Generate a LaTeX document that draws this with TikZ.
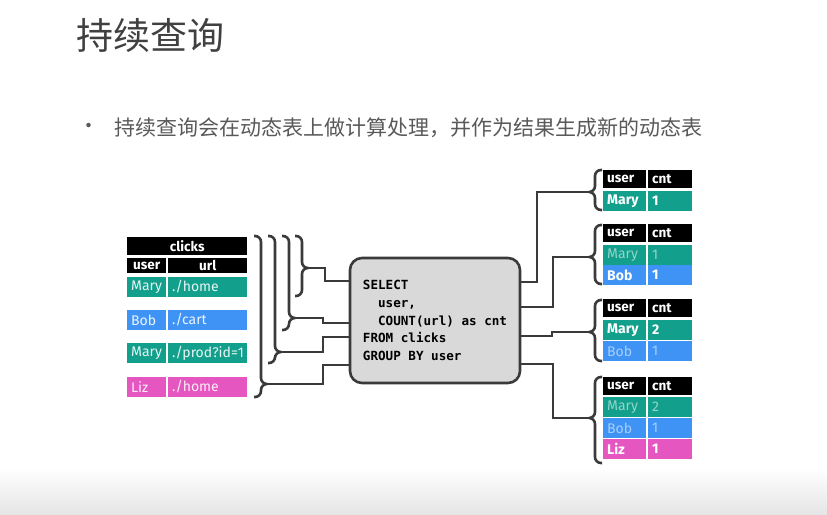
\documentclass[tikz,border=0pt]{standalone}
\usepackage{fontspec}
\setsansfont{Fira Sans}
\setmonofont{DejaVu Sans Mono}
\newfontfamily\cjk{Noto Sans CJK SC}
\definecolor{tealc}{HTML}{12A08C}
\definecolor{bluec}{HTML}{3F93F5}
\definecolor{pinkc}{HTML}{E656C0}
\definecolor{wirec}{HTML}{3A3A3A}
\definecolor{boxc}{HTML}{D9D9D9}
\definecolor{titlec}{HTML}{404040}
\definecolor{textc}{HTML}{595959}
\begin{document}
\begin{tikzpicture}[x=1pt,y=-1pt,
  wire/.style={draw=wirec,line width=2.6pt},
  cell/.style={anchor=north west,inner xsep=4pt,inner ysep=0pt,minimum height=19.5pt,text width=#1,align=left,text=white,font=\sffamily\fontsize{14}{16}\selectfont},
  head/.style={cell=#1,fill=black,font=\sffamily\bfseries\fontsize{13.5}{15}\selectfont},
  new/.style={font=\sffamily\bfseries\fontsize{14}{16}\selectfont},
  old/.style={text opacity=0.55},
  sqlbox/.style={draw=wirec,line width=2.6pt,fill=boxc,rounded corners=12pt,minimum width=170pt,minimum height=125pt,align=left,font=\ttfamily\bfseries\fontsize{12.6}{17.8}\selectfont}]
\useasboundingbox (0,0) rectangle (827,514);
\shade[top color=white,bottom color=black!10] (0,468) rectangle (827,514);

\node[anchor=west,inner sep=0pt,text=titlec,font=\cjk\fontsize{37}{40}\selectfont] (title) at (76,35) {持续查询};
\node[text=textc,font=\cjk\fontsize{21}{24}\selectfont] (dot) at (89,128) {•};
\node[anchor=west,inner sep=0pt,text=textc,font=\cjk\fontsize{21}{24}\selectfont] (point) at (114,128) {持续查询会在动态表上做计算处理，并作为结果生成新的动态表};

\node[sqlbox] (sql) at (435,320.5) {SELECT\\\hphantom{xx}user,\\\hphantom{xx}COUNT(url) as cnt\\FROM clicks\\GROUP BY user};

\node[head=112pt,align=center,minimum height=18pt] (clicks) at (127,237) {clicks};
\node[head=31pt,align=center,minimum height=15pt] (huser) at (127,258) {user};
\node[head=71pt,align=center,minimum height=15pt] (hurl) at (168,258) {url};
\foreach \y/\u/\p/\c [count=\i] in {277/Mary/{./home}/tealc,310/Bob/{./cart}/bluec,343/Mary/{./prod?id=1}/tealc,377/Liz/{./home}/pinkc}{
  \node[cell=31pt,fill=\c,text opacity=0.9] (user\i) at (127,\y) {\u};
  \node[cell=71pt,fill=\c,text opacity=0.9] (url\i) at (168,\y) {\p};
}

\foreach \x/\m/\b/\jx/\y [count=\i] in {302/268/296/325/281,289/318/330/323/323,275/352/363/323/337,261/384/397/323/365}{
  \draw[wire,rounded corners=6pt] (\x-7,236) -- (\x,236) -- (\x,\m) -- (\x+6,\m) (\x+6,\m) -- (\x,\m) -- (\x,\b) -- (\x-7,\b);
  \coordinate (in\i) at (\x+6,\m);
  \draw[wire] (in\i) -| (\jx,\y) -- (sql.west |- 0,\y);
}

\foreach \t/\y in {a/170,b/224,c/299,d/377}{
  \node[head=35pt,minimum height=18pt] (\t-user) at (603,\y) {user};
  \node[head=36pt,minimum height=18pt] (\t-cnt) at (648,\y) {cnt};
}
\foreach \y/\u/\n/\c/\s [count=\i] in {191/Mary/1/tealc/new,245/Mary/1/tealc/old,265/Bob/1/bluec/new,320/Mary/2/tealc/new,341/Bob/1/bluec/old,397/Mary/2/tealc/old,418/Bob/1/bluec/old,439/Liz/1/pinkc/new}{
  \node[cell=35pt,fill=\c,\s] (r\i-user) at (603,\y) {\u};
  \node[cell=36pt,fill=\c,\s] (r\i-cnt) at (648,\y) {\n};
}

\foreach \t/\m/\b/\jx/\y [count=\i] in {170/192/210/537/282,225/257/284/553/307,300/332/361/552/336,377/418/463/553/364}{
  \draw[wire,rounded corners=6pt] (602,\t) -- (595,\t) -- (595,\m) -- (589,\m) (589,\m) -- (595,\m) -- (595,\b) -- (602,\b);
  \coordinate (out\i) at (589,\m);
  \draw[wire] (out\i) -| (\jx,\y) -- (sql.east |- 0,\y);
}
\end{tikzpicture}
\end{document}
